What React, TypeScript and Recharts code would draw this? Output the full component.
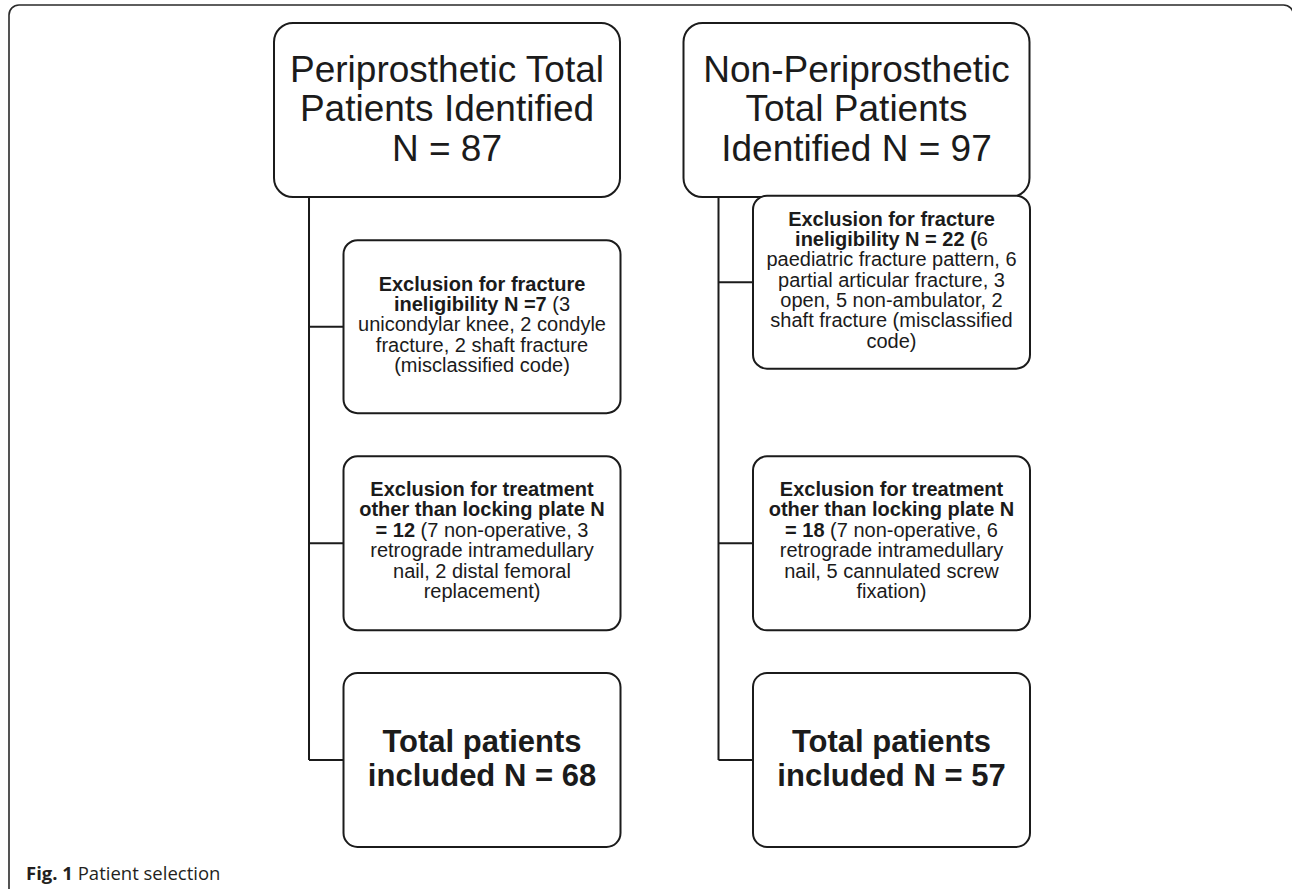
import React from 'react';
import { ScatterChart, Scatter, XAxis, YAxis, ReferenceLine } from 'recharts';

// ---------- data ----------
const groups = ['Periprosthetic', 'Non-Periprosthetic'];
const stages = ['Identified', 'Fracture ineligibility', 'Treatment other than locking plate', 'Included'];
const identifiedCounts = [87, 97];
const fractureExclusions = [7, 22];
const treatmentExclusions = [12, 18];
const includedCounts = [68, 57];

type Seg = { t: string; b?: boolean };

const periprostheticText: Seg[][][] = [
  [[{ t: 'Periprosthetic Total' }], [{ t: 'Patients Identified' }], [{ t: `N = ${identifiedCounts[0]}` }]],
  [
    [{ t: 'Exclusion for fracture', b: true }],
    [{ t: `ineligibility N =${fractureExclusions[0]}`, b: true }, { t: ' (3' }],
    [{ t: 'unicondylar knee, 2 condyle' }],
    [{ t: 'fracture, 2 shaft fracture' }],
    [{ t: '(misclassified code)' }],
  ],
  [
    [{ t: 'Exclusion for treatment', b: true }],
    [{ t: 'other than locking plate N', b: true }],
    [{ t: `= ${treatmentExclusions[0]}`, b: true }, { t: ' (7 non-operative, 3' }],
    [{ t: 'retrograde intramedullary' }],
    [{ t: 'nail, 2 distal femoral' }],
    [{ t: 'replacement)' }],
  ],
  [[{ t: 'Total patients', b: true }], [{ t: `included N = ${includedCounts[0]}`, b: true }]],
];

const nonPeriprostheticText: Seg[][][] = [
  [[{ t: 'Non-Periprosthetic' }], [{ t: 'Total Patients' }], [{ t: `Identified N = ${identifiedCounts[1]}` }]],
  [
    [{ t: 'Exclusion for fracture', b: true }],
    [{ t: `ineligibility N = ${fractureExclusions[1]} (`, b: true }, { t: '6' }],
    [{ t: 'paediatric fracture pattern, 6' }],
    [{ t: 'partial articular fracture, 3' }],
    [{ t: 'open, 5 non-ambulator, 2' }],
    [{ t: 'shaft fracture (misclassified' }],
    [{ t: 'code)' }],
  ],
  [
    [{ t: 'Exclusion for treatment', b: true }],
    [{ t: 'other than locking plate N', b: true }],
    [{ t: `= ${treatmentExclusions[1]}`, b: true }, { t: ' (7 non-operative, 6' }],
    [{ t: 'retrograde intramedullary' }],
    [{ t: 'nail, 5 cannulated screw' }],
    [{ t: 'fixation)' }],
  ],
  [[{ t: 'Total patients', b: true }], [{ t: `included N = ${includedCounts[1]}`, b: true }]],
];

const groupTexts = [periprostheticText, nonPeriprostheticText];

const nodes = groups.flatMap((g, gi) =>
  stages.map((s, si) => ({ group: gi, stage: si, name: `${g}: ${s}`, lines: groupTexts[gi][si] }))
);

// ---------- styles / layout ----------
const W = 1292;
const H = 889;
const INK = '#1b1b1b';
const FONT = '"Liberation Sans", Arial, Helvetica, sans-serif';
const stageStyle = [
  { dx: 0, w: 346, h: 174, rx: 19, fs: 37, lh: 39.5, shift: 0.31 },
  { dx: 35, w: 277, h: 173, rx: 14, fs: 20, lh: 20.3, shift: 0.23 },
  { dx: 35, w: 277, h: 174, rx: 14, fs: 20, lh: 20.4, shift: 0.18 },
  { dx: 35, w: 277, h: 174, rx: 14, fs: 31, lh: 34, shift: 0.29 },
];
const nodeDy: Record<string, number> = { '1-1': -44.5 };
const trunkDx = -138;
const xDomain = [-1.0916, 2.0635];
const yDomain = [-0.5077, 3.5954];

const NodeShape = (props: any) => {
  const { cx, cy, payload } = props;
  if (cx == null || cy == null || !payload) return null;
  const st = stageStyle[payload.stage];
  const dy = nodeDy[`${payload.group}-${payload.stage}`] || 0;
  const bx = cx + st.dx;
  const by = cy + dy;
  const left = bx - st.w / 2;
  const top = by - st.h / 2;
  const lines: Seg[][] = payload.lines;
  const n = lines.length;
  const firstBase = by - ((n - 1) * st.lh) / 2 + st.shift * st.fs;
  return (
    <g>
      {payload.stage > 0 && (
        <line x1={cx + trunkDx} y1={by} x2={left} y2={by} stroke={INK} strokeWidth={2} />
      )}
      <rect x={left} y={top} width={st.w} height={st.h} rx={st.rx} ry={st.rx} fill="#fff" stroke={INK} strokeWidth={2} />
      {lines.map((segs, i) => (
        <text
          key={i}
          x={bx}
          y={firstBase + i * st.lh}
          textAnchor="middle"
          fontFamily={FONT}
          fontSize={st.fs}
          fill={INK}
          style={{ whiteSpace: 'pre' }}
        >
          {segs.map((sg, j) => (
            <tspan key={j} fontWeight={sg.b ? 'bold' : 'normal'}>
              {sg.t}
            </tspan>
          ))}
        </text>
      ))}
    </g>
  );
};

const TrunkShape = (props: any) => {
  const { x1, y1, x2, y2 } = props;
  if ([x1, y1, x2, y2].some((v) => v == null || isNaN(v))) return null;
  const top = y1 + stageStyle[0].h / 2;
  return <line x1={x1 + trunkDx} y1={top} x2={x2 + trunkDx} y2={y2} stroke={INK} strokeWidth={2} />;
};

export default function App() {
  return (
    <div style={{ position: 'absolute', left: 0, top: 0, width: W, height: H, background: '#fff', overflow: 'hidden' }}>
      <svg width={W} height={H} style={{ position: 'absolute', left: 0, top: 0 }}>
        <rect x={9} y={5} width={1284.5} height={895} rx={10} ry={10} fill="none" stroke="#2a2a2a" strokeWidth={1.6} />
        <text x={26} y={880} fontFamily='"Open Sans", "Noto Sans", sans-serif' fontSize={18.5} fill="#231f20" style={{ whiteSpace: 'pre' }}>
          <tspan fontWeight="bold">Fig. 1</tspan>
          <tspan> Patient selection</tspan>
        </text>
      </svg>
      <div style={{ position: 'absolute', left: 0, top: 0 }}>
        <ScatterChart width={W} height={H} margin={{ top: 0, right: 0, bottom: 0, left: 0 }}>
          <XAxis type="number" dataKey="group" domain={xDomain} allowDataOverflow hide />
          <YAxis type="number" dataKey="stage" domain={yDomain} allowDataOverflow reversed hide />
          {groups.map((g, gi) => (
            <ReferenceLine
              key={g}
              segment={[
                { x: gi, y: 0 },
                { x: gi, y: stages.length - 1 },
              ]}
              ifOverflow="visible"
              shape={(p: any) => <TrunkShape {...p} />}
            />
          ))}
          <Scatter data={nodes} isAnimationActive={false} shape={(p: any) => <NodeShape {...p} />} />
        </ScatterChart>
      </div>
    </div>
  );
}
